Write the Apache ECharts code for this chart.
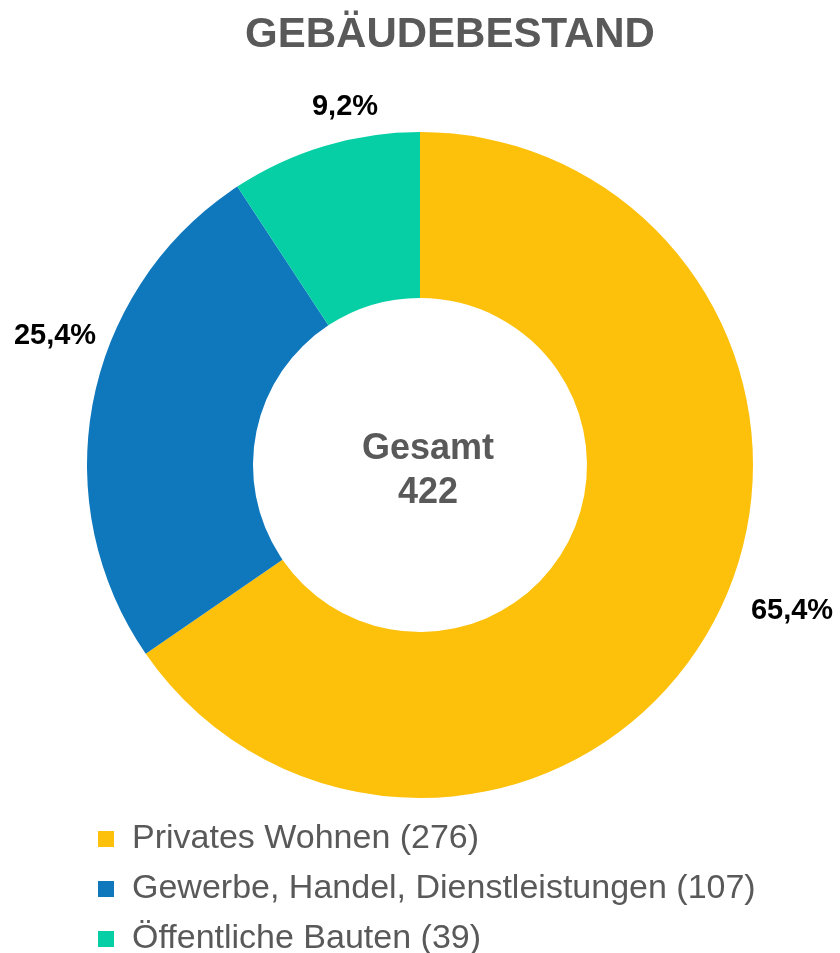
<!DOCTYPE html>
<html>
<head>
<meta charset="utf-8">
<script src="https://cdn.jsdelivr.net/npm/echarts@6/dist/echarts.min.js"></script>
<style>
    html, body { margin: 0; padding: 0; background: #fff; }
    #chart { width: 840px; height: 953px; }
</style>
</head>
<body>
<div id="chart"></div>
<script>
// Daten
var categories = ['Privates Wohnen', 'Gewerbe, Handel, Dienstleistungen', 'Öffentliche Bauten'];
var counts = [276, 107, 39];
var colors = ['#FDC00B', '#0F78BD', '#06CFA5'];

// Position der Prozent-Labels (wie im Original)
var labelPos = [[792, 611], [55, 336], [345, 107]];

var total = counts.reduce(function (a, b) { return a + b; }, 0);

function fmtPct(v) {
    return (v / total * 100).toFixed(1).replace('.', ',') + '%';
}

var pieData = categories.map(function (c, i) {
    return { name: c, value: counts[i], itemStyle: { color: colors[i] } };
});

var myChart = echarts.init(document.getElementById('chart'));
var option = {
    animation: false,
    title: [
        {
            text: 'GEBÄUDEBESTAND',
            left: 445,
            top: 9,
            textAlign: 'center',
            textStyle: { fontFamily: 'Liberation Sans, Arial', fontSize: 42, fontWeight: 'bold', color: '#595959' }
        },
        {
            text: 'Gesamt\n' + total,
            left: 423,
            top: 422,
            textAlign: 'center',
            textStyle: { fontFamily: 'Liberation Sans, Arial', fontSize: 36, fontWeight: 'bold', color: '#595959', lineHeight: 44 }
        }
    ],
    legend: {
        orient: 'vertical',
        left: 98,
        top: 822,
        height: 200,
        padding: 0,
        itemWidth: 16,
        itemHeight: 16,
        itemGap: 16,
        icon: 'rect',
        textStyle: { fontFamily: 'Liberation Sans, Arial', fontSize: 34, color: '#595959', padding: [0, 0, 0, 13] },
        formatter: function (name) {
            return name + ' (' + counts[categories.indexOf(name)] + ')';
        },
        data: categories
    },
    series: [
        {
            type: 'pie',
            center: [420, 465],
            radius: [167, 333],
            startAngle: 90,
            clockwise: true,
            avoidLabelOverlap: false,
            label: {
                show: true,
                position: 'outside',
                fontFamily: 'Liberation Sans, Arial',
                fontSize: 29,
                fontWeight: 'bold',
                color: '#000',
                formatter: function (p) { return fmtPct(p.value); }
            },
            labelLine: { show: false },
            labelLayout: function (p) {
                var pos = labelPos[p.dataIndex];
                return { x: pos[0], y: pos[1], align: 'center', verticalAlign: 'middle' };
            },
            emphasis: { disabled: true },
            data: pieData
        }
    ]
};
myChart.setOption(option);
</script>
</body>
</html>
